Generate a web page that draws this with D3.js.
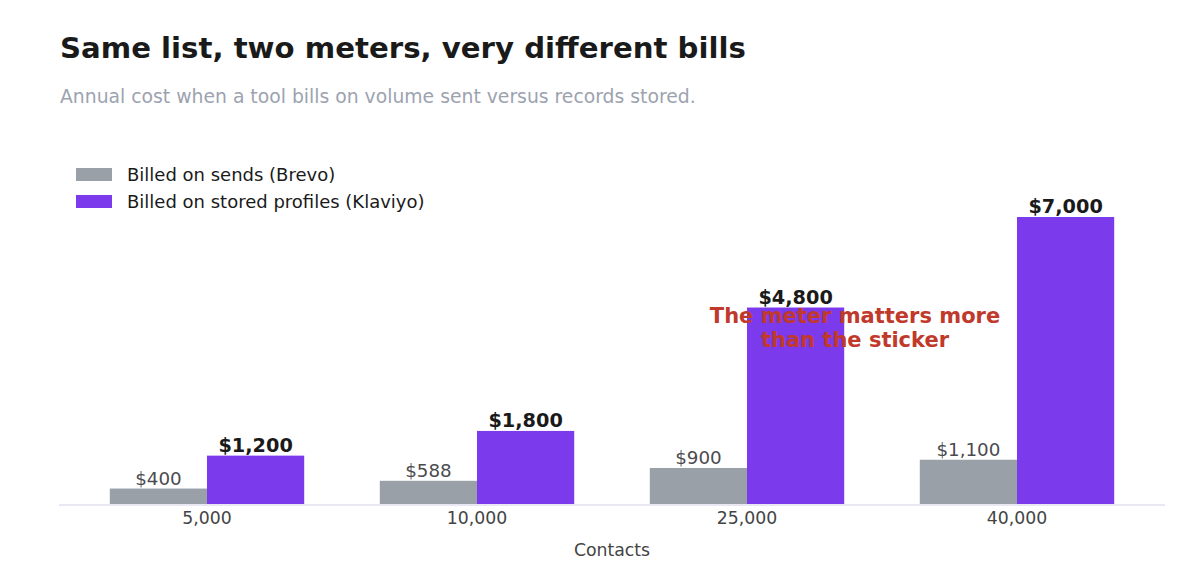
<!DOCTYPE html>
<html>
<head>
<meta charset="utf-8">
<script src="https://cdn.jsdelivr.net/npm/d3@7/dist/d3.min.js"></script>
<style>
  html, body { margin: 0; padding: 0; background: #ffffff; }
  svg { display: block; font-family: "DejaVu Sans", sans-serif; }
</style>
</head>
<body>
<svg id="chart" width="1200" height="580"></svg>
<script>
const categories = ["5,000", "10,000", "25,000", "40,000"];
const brevo = [400, 588, 900, 1100];
const klaviyo = [1200, 1800, 4800, 7000];
const seriesNames = ["Billed on sends (Brevo)", "Billed on stored profiles (Klaviyo)"];
const title = "Same list, two meters, very different bills";
const subtitle = "Annual cost when a tool bills on volume sent versus records stored.";
const xTitle = "Contacts";
const annotation = ["The meter matters more", "than the sticker"];

const colors = ["#9aa0a8", "#7c3aed"];
const svg = d3.select("#chart");

const plotLeft = 59, plotRight = 1165, baseY = 505;
const x = d3.scaleBand().domain(categories).range([72, 1152]).padding(0);
const barW = x.bandwidth() * 0.36;
const y = d3.scaleLinear().domain([0, 7000 * 1.15]).range([baseY, baseY - 288 * 1.15]);

const fmt = v => "$" + d3.format(",")(v);

// Title & subtitle
svg.append("text").attr("x", 60).attr("y", 58)
  .attr("font-size", 29.2).attr("font-weight", "bold").attr("fill", "#1a1a1a")
  .text(title);
svg.append("text").attr("x", 60).attr("y", 102.5)
  .attr("font-size", 18.8).attr("fill", "#9ca3af")
  .text(subtitle);

// Legend
seriesNames.forEach((name, i) => {
  const g = svg.append("g").attr("transform", `translate(76, ${168 + i * 27})`);
  g.append("rect").attr("width", 36).attr("height", 13).attr("fill", colors[i]);
  g.append("text").attr("x", 51).attr("y", 13)
    .attr("font-size", 18).attr("fill", "#1a1a1a").text(name);
});

// Bars
const gBars = svg.append("g");
gBars.selectAll("rect.brevo").data(brevo).join("rect")
  .attr("class", "brevo")
  .attr("x", (d, i) => x(categories[i]) + x.bandwidth() / 2 - barW)
  .attr("y", d => y(d))
  .attr("width", barW)
  .attr("height", d => y(0) - y(d))
  .attr("fill", colors[0]);
gBars.selectAll("rect.klaviyo").data(klaviyo).join("rect")
  .attr("class", "klaviyo")
  .attr("x", (d, i) => x(categories[i]) + x.bandwidth() / 2)
  .attr("y", d => y(d))
  .attr("width", barW)
  .attr("height", d => y(0) - y(d))
  .attr("fill", colors[1]);

// Baseline
svg.append("line").attr("x1", plotLeft).attr("x2", plotRight)
  .attr("y1", baseY).attr("y2", baseY)
  .attr("stroke", "#e9e7f3").attr("stroke-width", 2);

// Value labels
gBars.selectAll("text.bl").data(brevo).join("text")
  .attr("class", "bl")
  .attr("x", (d, i) => x(categories[i]) + x.bandwidth() / 2 - barW / 2)
  .attr("y", d => y(d) - 4)
  .attr("text-anchor", "middle")
  .attr("font-size", 18.3).attr("fill", "#4b4b4f")
  .text(fmt);
gBars.selectAll("text.kl").data(klaviyo).join("text")
  .attr("class", "kl")
  .attr("x", (d, i) => x(categories[i]) + x.bandwidth() / 2 + barW / 2)
  .attr("y", d => y(d) - 4)
  .attr("text-anchor", "middle")
  .attr("font-size", 19.3).attr("font-weight", "bold").attr("fill", "#1a1a1a")
  .text(fmt);

// X axis
const xAxis = d3.axisBottom(x).tickSize(0).tickPadding(0);
const gx = svg.append("g").attr("transform", `translate(0, ${baseY})`).call(xAxis);
gx.select(".domain").remove();
gx.selectAll("text").attr("font-size", 17.3).attr("fill", "#444")
  .attr("font-family", "DejaVu Sans, sans-serif").attr("dy", "0").attr("y", 18.5);

svg.append("text").attr("x", (plotLeft + plotRight) / 2).attr("y", 555.5)
  .attr("text-anchor", "middle").attr("font-size", 17.3).attr("fill", "#444")
  .text(xTitle);

// Annotation
const ann = svg.append("text").attr("x", 855).attr("y", 323)
  .attr("text-anchor", "middle").attr("font-size", 21).attr("font-weight", "bold")
  .attr("fill", "#c0392b");
annotation.forEach((line, i) => {
  ann.append("tspan").attr("x", 855).attr("dy", i === 0 ? 0 : 23.5).text(line);
});
</script>
</body>
</html>
